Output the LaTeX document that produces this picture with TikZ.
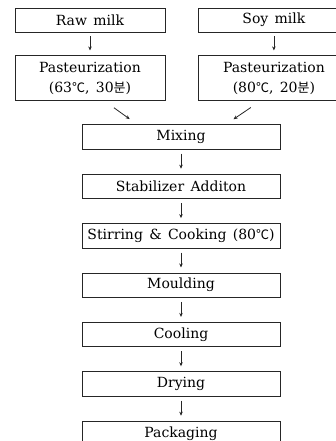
\documentclass[tikz,border=0pt]{standalone}
\usepackage{fontspec}
\setmainfont{DejaVu Serif}
\newfontfamily\kr{Noto Sans CJK KR}
\usetikzlibrary{arrows.meta, positioning}
\newcommand{\degc}{{\kr\fontsize{13}{13}\selectfont ℃}}
\newcommand{\bun}{{\kr\fontsize{13}{13}\selectfont 분}}
\newcommand{\boxfont}{\fontsize{14}{20}\selectfont\spaceskip=0.45em plus 0.1em\relax}
\tikzset{
  srcbox/.style={rectangle, draw=black!85, line width=0.9pt, minimum width=150pt,
    minimum height=24pt, inner sep=0pt, align=center},
  heatbox/.style={srcbox, minimum height=45pt},
  stepbox/.style={rectangle, draw=black!85, line width=0.9pt, minimum width=198pt,
    minimum height=24.5pt, inner sep=0pt, align=center},
  arr/.style={-{Stealth[length=4pt, width=3.5pt]}, line width=0.8pt, black!85,
    shorten <=4pt, shorten >=5pt},
  slant/.style={arr, shorten <=11pt, shorten >=9pt},
}

\begin{document}
\begin{tikzpicture}[x=1pt, y=1pt, node distance=24pt, font=\boxfont]
    \useasboundingbox (0,0) rectangle (336,-441);

    % two milk lines
    \node[srcbox] (raw) at (90,-20) {Raw milk};
    \node[srcbox, right=33pt of raw] (soy) {Soy milk};
    \node[heatbox, below=23pt of raw] (pastL) {Pasteurization\\(63\degc, 30\bun)};
    \node[heatbox, below=23pt of soy] (pastR) {Pasteurization\\(80\degc, 20\bun)};
    \draw[arr] (raw) -- (pastL);
    \draw[arr] (soy) -- (pastR);

    % main line
    \node[stepbox] (mix) at (181,-137) {Mixing};
    \node[stepbox, below=of mix] (stab) {Stabilizer Additon};
    \node[stepbox, below=of stab] (cook) {Stirring \& Cooking (80\degc)};
    \node[stepbox, below=of cook] (mould) {Moulding};
    \node[stepbox, below=of mould] (cool) {Cooling};
    \node[stepbox, below=of cool] (dry) {Drying};
    \node[stepbox, below=of dry] (pack) {Packaging};

    \draw[slant] ([xshift=15pt]pastL.south) -- ([xshift=-44pt]mix.north);
    \draw[slant] ([xshift=-14pt]pastR.south) -- ([xshift=45pt]mix.north);

    \draw[arr] (mix) -- (stab);
    \draw[arr] (stab) -- (cook);
    \draw[arr] (cook) -- (mould);
    \draw[arr] (mould) -- (cool);
    \draw[arr] (cool) -- (dry);
    \draw[arr] (dry) -- (pack);
\end{tikzpicture}
\end{document}
